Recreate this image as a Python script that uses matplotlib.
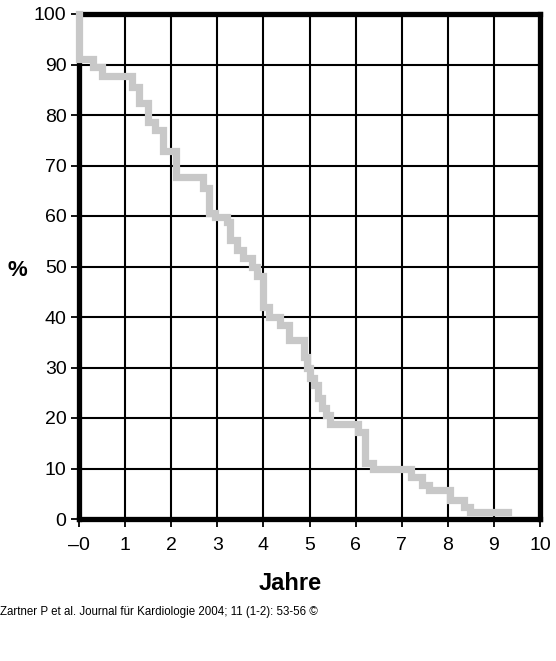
import matplotlib
matplotlib.use("Agg")
import matplotlib.pyplot as plt
import numpy as np

plt.rcParams['font.family'] = ['Liberation Sans', 'DejaVu Sans']

# Kaplan-Meier style step curve (years, percent)
times = [0, 0, 0.3, 0.5, 1.15, 1.3, 1.5, 1.65, 1.82, 2.1, 2.7,
         2.82, 2.95, 3.2, 3.28, 3.42, 3.56, 3.75, 3.86, 4.0, 4.12,
         4.35, 4.55, 4.87, 4.95, 5.02, 5.1, 5.18, 5.27, 5.35, 5.45,
         6.05, 6.2, 6.38, 7.2, 7.45, 7.6, 8.05, 8.35, 8.48, 9.3]
percent = [100, 91, 89.5, 87.7, 85.5, 82.4, 78.6, 77, 72.8, 67.7, 65.5,
           60.5, 59.8, 58.8, 55.2, 53.3, 51.7, 50, 48.2, 42, 40,
           38.5, 35.4, 32, 30, 28, 26.5, 24, 22, 20.5, 18.8,
           17.2, 11, 10, 8.3, 6.8, 5.7, 3.8, 2.4, 1.4, 1.4]

x_ticks = list(range(0, 11))
x_tick_labels = ['\u20130', '1', '2', '3', '4', '5', '6', '7', '8', '9', '10']
y_ticks = list(range(0, 101, 10))
y_tick_labels = [str(v) for v in y_ticks]

W, H = 556, 661
fig = plt.figure(figsize=(W / 100, H / 100), dpi=100)
ax = fig.add_axes([79 / W, (H - 519) / H, (540 - 79) / W, (519 - 14) / H])

ax.set_xlim(0, 10)
ax.set_ylim(0, 100)
ax.set_xticks(x_ticks)
ax.set_xticklabels(x_tick_labels)
ax.set_yticks(y_ticks)
ax.set_yticklabels(y_tick_labels)

ax.grid(True, color='black', linewidth=1.5, zorder=1)
ax.set_axisbelow(True)

for sp in ax.spines.values():
    sp.set_linewidth(3.8)
    sp.set_color('black')
    sp.set_zorder(2)

ax.tick_params(axis='both', direction='out', length=6, width=1.3,
               colors='black', labelsize=14)
ax.tick_params(axis='x', pad=7)
ax.tick_params(axis='y', pad=3)

ax.step(times, percent, where='post', color='#c8c8c8', linewidth=5.2,
        solid_joinstyle='miter', clip_on=False, zorder=5)

fig.text(290 / W, 1 - 583 / H, 'Jahre', ha='center', va='center',
         fontsize=17, fontweight='bold')
fig.text(17 / W, 1 - 270 / H, '%', ha='center', va='center',
         fontsize=16, fontweight='bold')
fig.text(0.0, 1 - 612 / H,
         'Zartner P et al. Journal f\u00fcr Kardiologie 2004; 11 (1-2): 53-56 \u00a9',
         ha='left', va='center', fontsize=8.3)

fig.savefig('out.png', dpi=100)
